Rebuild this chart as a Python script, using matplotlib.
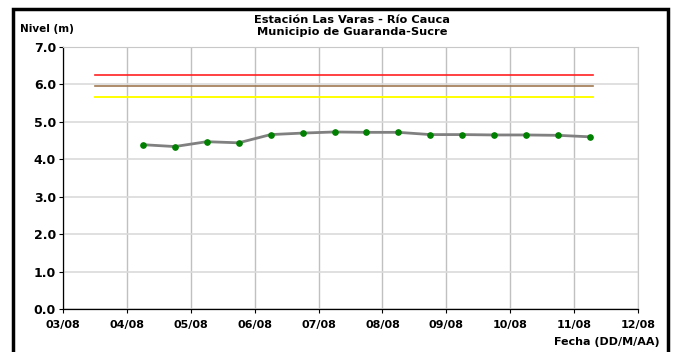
import matplotlib.pyplot as plt
from matplotlib.patches import Rectangle

# fechas como dia de agosto (con fraccion del dia)
dias = [4.25, 4.75, 5.25, 5.75, 6.25, 6.75, 7.25, 7.75, 8.25, 8.75, 9.25, 9.75, 10.25, 10.75, 11.25]
nivel = [4.39, 4.34, 4.47, 4.44, 4.66, 4.70, 4.73, 4.72, 4.72, 4.66, 4.66, 4.65, 4.65, 4.64, 4.60]

# niveles de alerta (rojo, naranja/cafe, amarillo)
alerta_dias = [3.5, 11.3]
alerta_roja = 6.25
alerta_naranja = 5.96
alerta_amarilla = 5.67

xticks = [3, 4, 5, 6, 7, 8, 9, 10, 11, 12]
xlabels = ['03/08', '04/08', '05/08', '06/08', '07/08', '08/08', '09/08', '10/08', '11/08', '12/08']
yticks = [0, 1, 2, 3, 4, 5, 6, 7]

plt.rcParams['font.family'] = ['DejaVu Sans']
plt.rcParams['font.weight'] = 'bold'

fig = plt.figure(figsize=(6.82, 3.52), dpi=100)
ax = fig.add_axes([63 / 682, 1 - 309 / 352, 575 / 682, 262 / 352])

ax.plot(alerta_dias, [alerta_roja] * 2, color='#ff2020', lw=1.2)
ax.plot(alerta_dias, [alerta_naranja] * 2, color='#a07850', lw=1.2)
ax.plot(alerta_dias, [alerta_amarilla] * 2, color='#ffff00', lw=1.4)
ax.plot(dias, nivel, color='#808080', lw=2.0, marker='o', ms=3.8,
        mfc='#008000', mec='#008000', zorder=3)

ax.set_xlim(3, 12)
ax.set_ylim(0, 7)
ax.set_xticks(xticks)
ax.set_xticklabels(xlabels)
ax.set_yticks(yticks)
ax.set_yticklabels([f'{v:.1f}' for v in yticks])
ax.tick_params(axis='x', labelsize=8, length=3, width=0.8, pad=5)
ax.tick_params(axis='y', labelsize=9, length=3, width=0.8, pad=2)
for lbl in ax.get_xticklabels() + ax.get_yticklabels():
    lbl.set_fontweight('bold')

ax.xaxis.grid(True, color='#c0c0c0', lw=1.0)
ax.yaxis.grid(True, color='#dadada', lw=1.2)
ax.set_axisbelow(True)
for s in ['top', 'right']:
    ax.spines[s].set_color('#c8c8c8')
for s in ['left', 'bottom']:
    ax.spines[s].set_color('black')
    ax.spines[s].set_linewidth(0.9)

fig.text(352 / 682, 1 - 20 / 352, 'Estación Las Varas - Río Cauca', ha='center', va='center',
         fontsize=8.2, fontweight='bold')
fig.text(352 / 682, 1 - 32 / 352, 'Municipio de Guaranda-Sucre', ha='center', va='center',
         fontsize=8.2, fontweight='bold')
fig.text(20 / 682, 1 - 29 / 352, 'Nivel (m)', ha='left', va='center', fontsize=7.5, fontweight='bold')
fig.text(660 / 682, 1 - 342 / 352, 'Fecha (DD/M/AA)', ha='right', va='center', fontsize=8,
         fontweight='bold')

# marco negro del grafico
fig.patches.append(Rectangle((13 / 682, -0.05), 655 / 682, 1.05 - 9 / 352,
                             transform=fig.transFigure, fill=False, ec='black', lw=2.5))

fig.savefig('out.png', dpi=100)
